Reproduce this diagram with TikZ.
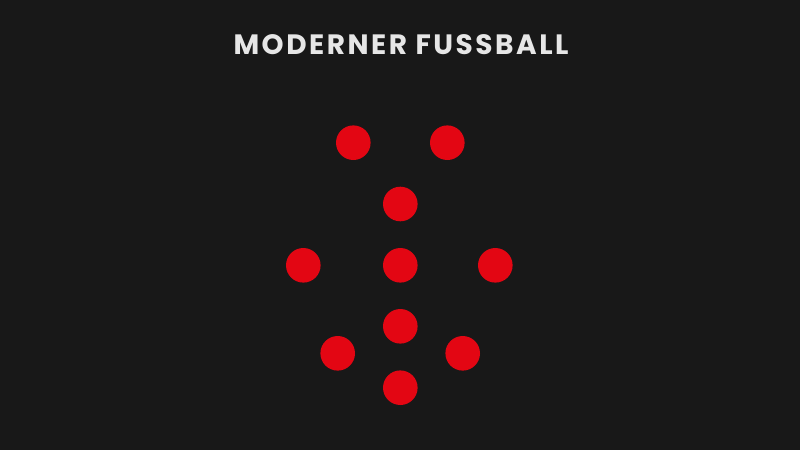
\documentclass[tikz,border=0pt]{standalone}
\usepackage{fontspec}
\setmainfont{Poppins}
\newfontfamily\titlefont{Poppins}[UprightFont=* Bold,LetterSpace=9]
\definecolor{bg}{HTML}{181818}
\definecolor{dotred}{HTML}{E30613}
\definecolor{titlegray}{HTML}{E6E6E6}
\begin{document}
\begin{tikzpicture}[x=1pt,y=-1pt,
  player/.style={circle,fill=dotred,draw=none,minimum size=34.6pt,inner sep=0pt}]
\fill[bg] (0,0) rectangle (800,450);
\useasboundingbox (0,0) rectangle (800,450);
\node[text=titlegray,font=\titlefont\fontsize{28}{30}\selectfont] (title) at (401,45) {MODERNER FUSSBALL};
\node[player] (p1) at (353.3,142.7) {};
\node[player] (p2) at (447.3,142.7) {};
\node[player] (p3) at (400.3,204) {};
\node[player] (p4) at (303.3,265.3) {};
\node[player] (p5) at (400.3,265.3) {};
\node[player] (p6) at (495.3,265.3) {};
\node[player] (p7) at (400.3,326.3) {};
\node[player] (p8) at (337.7,353.3) {};
\node[player] (p9) at (462.7,353.3) {};
\node[player] (p10) at (400.3,387.7) {};
\end{tikzpicture}
\end{document}
